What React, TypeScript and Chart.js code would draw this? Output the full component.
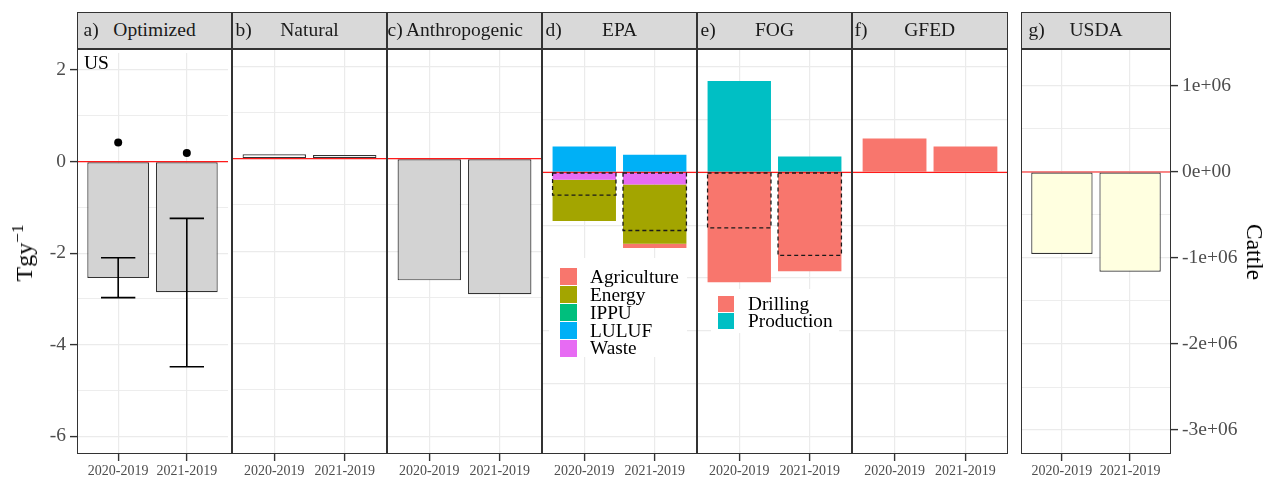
import React, { useEffect, useRef } from 'react';
import { Chart, registerables } from 'chart.js';

Chart.register(...registerables);

// ---------------- data ----------------
const periods = ['2020-2019', '2021-2019'];
const periodPositions = [1, 2];
const referenceLevel = 0;

// a) Optimized (Tg/y)
const optimized = [-2.54, -2.85];
const optimizedLow = [-2.97, -4.48];
const optimizedHigh = [-2.1, -1.24];
const optimizedPoints = [0.42, 0.19];
// b) Natural
const natural = [0.095, 0.08];
// c) Anthropogenic
const anthropogenic = [-2.63, -2.93];

// d) EPA sectors
const epaSectors = ['Agriculture', 'Energy', 'IPPU', 'LULUF', 'Waste'];
const epaColors = ['#F8766D', '#A3A500', '#00BF7D', '#00B0F6', '#E76BF3'];
const epaAgriculture = [0, -0.08];
const epaEnergy = [-0.78, -1.12];
const epaIPPU = [0, 0];
const epaLULUF = [0.49, 0.335];
const epaWaste = [-0.14, -0.23];
const epaDashed = [-0.43, -1.1];

// e) FOG
const fogSectors = ['Drilling', 'Production'];
const fogColors = ['#F8766D', '#00BFC4'];
const fogDrilling = [-2.08, -1.87];
const fogProduction = [1.73, 0.3];
const fogDashed = [-1.05, -1.57];

// f) GFED
const gfed = [0.64, 0.49];

// g) USDA cattle
const usdaCattle = [-953000, -1159000];

// tick labels
const tgTickValues = [-6, -4, -2, 0, 2];
const usdaTickValues = [-3e6, -2e6, -1e6, 0, 1e6];
const usdaTickLabels = ['-3e+06', '-2e+06', '-1e+06', '0e+00', '1e+06'];

// ---------------- layout ----------------
const SERIF = "'Liberation Serif', 'Times New Roman', serif";
const PAGE_W = 1266;
const PAGE_H = 477;
const STRIP_TOP = 12;
const PLOT_TOP = 49;
const PLOT_BOTTOM = 454;
const X_AXIS_H = PAGE_H - PLOT_BOTTOM;
const BORDER = '1.5px solid #333';

function steps(from: number, to: number, step: number) {
  const out: number[] = [];
  for (let v = from; v <= to + step * 1e-6; v += step) out.push(v);
  return out;
}

const yRanges: any = {
  main: {
    min: -6.385, max: 2.372, grid: steps(-6, 2, 1), major: tgTickValues,
    label: (v: number) => (tgTickValues.some((m) => Math.abs(m - v) < 1e-9) ? String(v) : ''),
  },
  sector: {
    min: -5.33, max: 2.335, grid: steps(-5, 2, 1), major: steps(-5, 2, 1),
    label: () => '',
  },
  usda: {
    min: -3.279e6, max: 1.43e6, grid: steps(-3e6, 1e6, 5e5), major: usdaTickValues,
    label: (v: number) => {
      const i = usdaTickValues.findIndex((m) => Math.abs(m - v) < 1);
      return i >= 0 ? usdaTickLabels[i] : '';
    },
  },
};

const pts = (vals: number[]) => vals.map((y, i) => ({ x: periodPositions[i], y }));

const barBase = { categoryPercentage: 0.9, barPercentage: 1 };

function plainBars(vals: number[], fill: string, border: string | null) {
  return {
    type: 'bar',
    data: pts(vals),
    backgroundColor: fill,
    borderColor: border || fill,
    borderWidth: border ? 1.2 : 0,
    borderSkipped: false,
    ...barBase,
  };
}

function dashedBars(vals: number[]) {
  return {
    type: 'bar',
    data: pts(vals),
    backgroundColor: 'rgba(0,0,0,0)',
    borderWidth: 0,
    stack: 'dashed',
    grouped: false,
    dashedOutline: true,
    ...barBase,
  };
}

// stacking order: the dataset closest to zero comes first
const epaSeries = [epaAgriculture, epaEnergy, epaIPPU, epaLULUF, epaWaste];
const epaDatasets = [
  ...epaSectors
    .map((name, i) => ({
      type: 'bar', label: name, data: pts(epaSeries[i]), backgroundColor: epaColors[i],
      borderWidth: 0, ...barBase,
    }))
    .reverse(),
  dashedBars(epaDashed),
];
const fogSeries = [fogDrilling, fogProduction];
const fogDatasets = [
  ...fogSectors
    .map((name, i) => ({
      type: 'bar', label: name, data: pts(fogSeries[i]), backgroundColor: fogColors[i],
      borderWidth: 0, ...barBase,
    }))
    .reverse(),
  dashedBars(fogDashed),
];

// ---------------- plugins ----------------
const zeroLinePlugin = (before: boolean) => {
  const draw = (chart: any) => {
    const y = chart.scales.y.getPixelForValue(referenceLevel);
    const { left, right } = chart.chartArea;
    const ctx = chart.ctx;
    ctx.save();
    ctx.strokeStyle = '#ff1a1a';
    ctx.lineWidth = 1.2;
    ctx.beginPath();
    ctx.moveTo(left, y);
    ctx.lineTo(right, y);
    ctx.stroke();
    ctx.restore();
  };
  return before
    ? { id: 'zeroLineBefore', beforeDatasetsDraw: draw }
    : { id: 'zeroLineAfter', afterDatasetsDraw: draw };
};

const dashedOutlinePlugin = {
  id: 'dashedOutline',
  afterDatasetsDraw(chart: any) {
    const ctx = chart.ctx;
    chart.data.datasets.forEach((ds: any, i: number) => {
      if (!ds.dashedOutline) return;
      const meta = chart.getDatasetMeta(i);
      meta.data.forEach((el: any) => {
        const p = el.getProps(['x', 'y', 'base', 'width'], true);
        const top = Math.min(p.y, p.base);
        const h = Math.abs(p.base - p.y);
        ctx.save();
        ctx.setLineDash([4, 3]);
        ctx.strokeStyle = '#1a1a1a';
        ctx.lineWidth = 1.3;
        ctx.strokeRect(p.x - p.width / 2, top, p.width, h);
        ctx.restore();
      });
    });
  },
};

const errorBarPlugin = (low: number[], high: number[], capHalf: number) => ({
  id: 'errorBars',
  afterDatasetsDraw(chart: any) {
    const { x, y } = chart.scales;
    const ctx = chart.ctx;
    ctx.save();
    ctx.strokeStyle = '#000';
    ctx.lineWidth = 1.6;
    periodPositions.forEach((pos, i) => {
      const px = x.getPixelForValue(pos);
      const l = x.getPixelForValue(pos - capHalf);
      const r = x.getPixelForValue(pos + capHalf);
      const yl = y.getPixelForValue(low[i]);
      const yh = y.getPixelForValue(high[i]);
      ctx.beginPath();
      ctx.moveTo(px, yl); ctx.lineTo(px, yh);
      ctx.moveTo(l, yl); ctx.lineTo(r, yl);
      ctx.moveTo(l, yh); ctx.lineTo(r, yh);
      ctx.stroke();
    });
    ctx.restore();
  },
});

// ---------------- panels ----------------
const panels: any[] = [
  {
    letter: 'a)', name: 'Optimized', left: 77, width: 155, letterDx: 7, yKind: 'main', axis: 'left',
    datasets: [
      {
        type: 'line', data: pts(optimizedPoints), showLine: false, pointRadius: 4,
        pointBackgroundColor: '#000', pointBorderWidth: 0,
      },
      plainBars(optimized, '#d3d3d3', '#333'),
    ],
    plugins: [zeroLinePlugin(false), errorBarPlugin(optimizedLow, optimizedHigh, 0.25)],
  },
  {
    letter: 'b)', name: 'Natural', left: 232, width: 155, letterDx: 4, yKind: 'main', axis: 'none',
    datasets: [plainBars(natural, '#ffffff', '#333')],
    plugins: [zeroLinePlugin(false)],
  },
  {
    letter: 'c)', name: 'Anthropogenic', left: 387, width: 155, letterDx: 1, yKind: 'main', axis: 'none',
    datasets: [plainBars(anthropogenic, '#d3d3d3', '#333')],
    plugins: [zeroLinePlugin(false)],
  },
  {
    letter: 'd)', name: 'EPA', left: 542, width: 155, letterDx: 4, yKind: 'sector', axis: 'none', stacked: true,
    datasets: epaDatasets,
    plugins: [zeroLinePlugin(false), dashedOutlinePlugin],
  },
  {
    letter: 'e)', name: 'FOG', left: 697, width: 155, letterDx: 4, yKind: 'sector', axis: 'none', stacked: true,
    datasets: fogDatasets,
    plugins: [zeroLinePlugin(false), dashedOutlinePlugin],
  },
  {
    letter: 'f)', name: 'GFED', left: 852, width: 155.5, letterDx: 3, yKind: 'sector', axis: 'none',
    datasets: [plainBars(gfed, '#F8766D', null)],
    plugins: [zeroLinePlugin(true)],
  },
  {
    letter: 'g)', name: 'USDA', left: 1021, width: 150, letterDx: 8, yKind: 'usda', axis: 'right',
    datasets: [plainBars(usdaCattle, '#ffffe0', '#333')],
    plugins: [zeroLinePlugin(true)],
  },
];

function buildConfig(panel: any, leftW: number, rightW: number) {
  const r = yRanges[panel.yKind];
  const isMajor = (v: number) =>
    r.major.some((m: number) => Math.abs(m - v) < 1e-6 * Math.max(1, Math.abs(m)));
  const showAxis = panel.axis !== 'none';
  return {
    type: 'bar',
    data: { datasets: panel.datasets },
    options: {
      responsive: false,
      animation: false,
      events: [],
      layout: { padding: 0 },
      plugins: { legend: { display: false }, tooltip: { enabled: false }, title: { display: false } },
      scales: {
        x: {
          type: 'linear', min: 0.4, max: 2.6, bounds: 'data', stacked: true, offset: false,
          afterBuildTicks: (s: any) => { s.ticks = periodPositions.map((v) => ({ value: v })); },
          afterFit: (s: any) => { s.height = X_AXIS_H; s.paddingLeft = 0; s.paddingRight = 0; },
          border: { display: false },
          grid: {
            offset: false, color: '#ebebeb', lineWidth: 1.2, drawTicks: true, tickLength: 7,
            tickWidth: 1.4, tickColor: '#333',
          },
          ticks: {
            autoSkip: false, maxRotation: 0, minRotation: 0, padding: 2, color: '#4d4d4d',
            font: { family: SERIF, size: 14 },
            callback: (_v: any, i: number) => periods[i],
          },
        },
        y: {
          type: 'linear', position: panel.axis === 'right' ? 'right' : 'left',
          min: r.min, max: r.max, bounds: 'data', stacked: !!panel.stacked,
          afterBuildTicks: (s: any) => { s.ticks = r.grid.map((v: number) => ({ value: v })); },
          afterFit: (s: any) => {
            s.width = panel.axis === 'left' ? leftW : panel.axis === 'right' ? rightW : 0;
            s.paddingTop = 0; s.paddingBottom = 0;
          },
          border: { display: false },
          grid: {
            offset: false,
            color: '#ebebeb',
            lineWidth: (c: any) => (c.tick && isMajor(c.tick.value) ? 1.2 : 0.9),
            drawTicks: showAxis, tickLength: 7, tickWidth: 1.4,
            tickColor: (c: any) => (c.tick && isMajor(c.tick.value) ? '#333' : 'rgba(0,0,0,0)'),
          },
          ticks: {
            display: showAxis, autoSkip: false, padding: 4, color: '#4d4d4d',
            font: { family: SERIF, size: 19.5 },
            callback: (v: number) => r.label(v),
          },
        },
      },
    },
    plugins: panel.plugins,
  };
}

function PanelCanvas({ panel }: { panel: any }) {
  const ref = useRef<HTMLCanvasElement | null>(null);
  const leftW = panel.axis === 'left' ? panel.left : 0;
  const rightW = panel.axis === 'right' ? PAGE_W - (panel.left + panel.width) : 0;
  const w = Math.round(panel.width + leftW + rightW);
  const h = PAGE_H - PLOT_TOP;
  useEffect(() => {
    const chart = new Chart(ref.current as HTMLCanvasElement, buildConfig(panel, leftW, rightW) as any);
    return () => chart.destroy();
  }, []);
  return (
    <div style={{ position: 'absolute', left: panel.left - leftW, top: PLOT_TOP, width: w, height: h }}>
      <canvas ref={ref} width={w} height={h} style={{ width: w, height: h, display: 'block' }} />
    </div>
  );
}

function Strip({ panel }: { panel: any }) {
  return (
    <div
      style={{
        position: 'absolute', left: panel.left, top: STRIP_TOP, width: panel.width,
        height: PLOT_TOP - STRIP_TOP, background: '#d9d9d9', border: BORDER, boxSizing: 'border-box',
        color: '#1a1a1a', fontSize: 19.5, lineHeight: `${PLOT_TOP - STRIP_TOP - 3}px`, whiteSpace: 'nowrap',
      }}
    >
      <span style={{ position: 'absolute', left: panel.letterDx - 1.5, top: 0 }}>{panel.letter}</span>
      <div style={{ textAlign: 'center' }}>{panel.name}</div>
    </div>
  );
}

function PanelFrame({ panel }: { panel: any }) {
  return (
    <div
      style={{
        position: 'absolute', left: panel.left, top: PLOT_TOP, width: panel.width,
        height: PLOT_BOTTOM - PLOT_TOP, border: BORDER, boxSizing: 'border-box', pointerEvents: 'none',
      }}
    />
  );
}

function Legend({ items, colors, box, keyX, keySize, textX, firstRow, rowH }: any) {
  return (
    <>
      <div style={{ position: 'absolute', left: box.left, top: box.top, width: box.width, height: box.height, background: '#fff' }} />
      {items.map((name: string, i: number) => {
        const c = firstRow + i * rowH;
        return (
          <React.Fragment key={name}>
            <div style={{ position: 'absolute', left: keyX, top: c - keySize / 2, width: keySize, height: keySize, background: colors[i] }} />
            <div style={{ position: 'absolute', left: textX, top: c - 10, height: 20, lineHeight: '20px', fontSize: 19.3, color: '#000', whiteSpace: 'nowrap' }}>
              {name}
            </div>
          </React.Fragment>
        );
      })}
    </>
  );
}

export default function App() {
  return (
    <div
      style={{
        position: 'absolute', left: 0, top: 0, width: PAGE_W, height: PAGE_H, background: '#fff',
        overflow: 'hidden', fontFamily: SERIF,
      }}
    >
      {panels.map((p, i) => (
        <PanelCanvas key={'c' + i} panel={p} />
      ))}
      <Legend
        items={epaSectors} colors={epaColors}
        box={{ left: 549, top: 258, width: 138, height: 99 }}
        keyX={560} keySize={16.7} textX={590} firstRow={276.8} rowH={17.9}
      />
      <Legend
        items={fogSectors} colors={fogColors}
        box={{ left: 711, top: 289, width: 128, height: 44 }}
        keyX={718} keySize={16} textX={748} firstRow={303.7} rowH={17.6}
      />
      {panels.map((p, i) => (
        <PanelFrame key={'f' + i} panel={p} />
      ))}
      {panels.map((p, i) => (
        <Strip key={'s' + i} panel={p} />
      ))}
      <div style={{ position: 'absolute', left: 84, top: 52.7, fontSize: 19.5, lineHeight: '19.5px', color: '#000' }}>US</div>
      <div
        style={{
          position: 'absolute', left: 24, top: 253, transform: 'translate(-50%, -50%) rotate(-90deg)',
          fontSize: 24, lineHeight: '24px', whiteSpace: 'nowrap', color: '#000',
        }}
      >
        Tgy<sup style={{ fontSize: '0.72em', verticalAlign: '0.55em', lineHeight: 0 }}>−1</sup>
      </div>
      <div
        style={{
          position: 'absolute', left: 1255, top: 252, transform: 'translate(-50%, -50%) rotate(90deg)',
          fontSize: 23.5, lineHeight: '24px', whiteSpace: 'nowrap', color: '#000',
        }}
      >
        Cattle
      </div>
    </div>
  );
}
